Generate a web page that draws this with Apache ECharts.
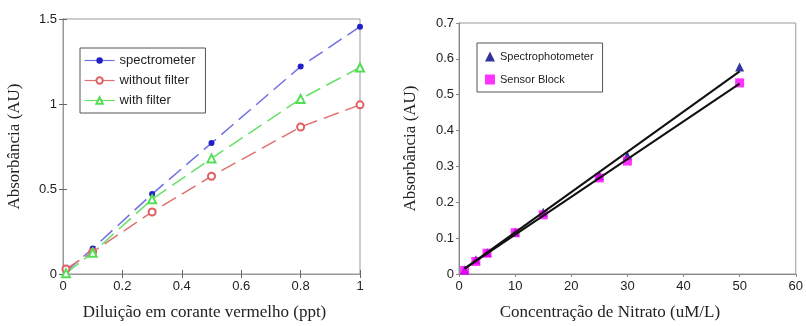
<!DOCTYPE html>
<html>
<head>
<meta charset="utf-8">
<script src="https://cdn.jsdelivr.net/npm/echarts@6/dist/echarts.min.js"></script>
<style>
  html, body { margin: 0; padding: 0; background: #fff; }
  #chart { width: 806px; height: 326px; }
</style>
</head>
<body>
<div id="chart"></div>
<script>
// left panel: dilution in red dye
const dilution = [0.01, 0.1, 0.3, 0.5, 0.8, 1];
const spectrometer = [0.015, 0.15, 0.47, 0.77, 1.22, 1.455];
const withoutFilter = [0.03, 0.13, 0.365, 0.575, 0.865, 0.995];
const withFilter = [0.005, 0.125, 0.44, 0.68, 1.03, 1.215];
const leftXTicks = [0, 0.2, 0.4, 0.6, 0.8, 1];
const leftYTicks = [0, 0.5, 1, 1.5];

// right panel: nitrate concentration
const nitrate = [1, 3, 5, 10, 15, 25, 30, 50];
const spectrophotometer = [0.012, 0.04, 0.06, 0.117, 0.172, 0.275, 0.33, 0.577];
const sensorBlock = [0.01, 0.035, 0.058, 0.115, 0.165, 0.268, 0.315, 0.533];
// fitted lines, read at both ends
const fitX = [1, 50];
const fitSpectro = [0.015, 0.565];
const fitSensor = [0.015, 0.531];

const pairs = (xs, ys) => xs.map((x, i) => [x, ys[i]]);

const chart = echarts.init(document.getElementById('chart'));

const tickFont = { fontFamily: 'Liberation Sans', fontSize: 13, color: '#222' };
const titleFont = { fontFamily: 'Liberation Serif', fontSize: 17, color: '#222' };
const dash = [16, 7];

const option = {
    animation: false,
    backgroundColor: '#fff',
    grid: [
        { left: 63, top: 19, width: 297, height: 257, show: true, borderColor: '#999', borderWidth: 1 },
        { left: 459, top: 23, width: 339, height: 253, show: true, borderColor: '#999', borderWidth: 1 }
    ],
    legend: [
        {
            orient: 'vertical', left: 80, top: 48, width: 128,
            padding: [6, 10, 6, 4], itemGap: 7, itemWidth: 30, itemHeight: 8,
            borderColor: '#555', borderWidth: 1, backgroundColor: '#fff',
            lineStyle: { type: 'solid', width: 1.2 },
            textStyle: { fontFamily: 'Liberation Sans', fontSize: 13, color: '#222' },
            data: ['spectrometer', 'without filter', 'with filter']
        },
        {
            orient: 'vertical', left: 477, top: 43,
            padding: [8, 9, 7, 8], itemGap: 12, itemWidth: 10, itemHeight: 10,
            borderColor: '#555', borderWidth: 1, backgroundColor: '#fff',
            textStyle: { fontFamily: 'Liberation Sans', fontSize: 11, color: '#222' },
            data: [
                { name: 'Spectrophotometer', icon: 'triangle' },
                { name: 'Sensor Block', icon: 'rect' }
            ]
        }
    ],
    xAxis: [
        {
            gridIndex: 0, type: 'value', min: 0, max: 1, interval: 0.2,
            name: 'Diluição em corante vermelho (ppt)', nameLocation: 'middle', nameGap: 30,
            nameTextStyle: Object.assign({ padding: [0, 14, 0, 0] }, titleFont),
            axisLine: { lineStyle: { color: '#999' } },
            axisTick: { inside: true, length: 4, lineStyle: { color: '#666' } },
            axisLabel: Object.assign({ margin: 6, formatter: v => leftXTicks.includes(v) ? String(v) : '' }, tickFont),
            splitLine: { show: false }
        },
        {
            gridIndex: 0, type: 'value', min: 0, max: 1, interval: 0.2, position: 'top',
            axisLine: { lineStyle: { color: '#999' } },
            axisTick: { inside: true, length: 4, lineStyle: { color: '#666' } },
            axisLabel: { show: false }, splitLine: { show: false }
        },
        {
            gridIndex: 1, type: 'value', min: 0, max: 60, interval: 10,
            name: 'Concentração de Nitrato (uM/L)', nameLocation: 'middle', nameGap: 30,
            nameTextStyle: Object.assign({ padding: [0, 35, 0, 0] }, titleFont),
            axisLine: { lineStyle: { color: '#888' } },
            axisTick: { length: 3, lineStyle: { color: '#888' } },
            axisLabel: Object.assign({ margin: 6 }, tickFont),
            splitLine: { show: false }
        }
    ],
    yAxis: [
        {
            gridIndex: 0, type: 'value', min: 0, max: 1.5, interval: 0.5,
            name: 'Absorbância (AU)', nameLocation: 'middle', nameGap: 40,
            nameTextStyle: titleFont,
            axisLine: { lineStyle: { color: '#999' } },
            axisTick: { inside: true, length: 4, lineStyle: { color: '#666' } },
            axisLabel: Object.assign({ margin: 6, formatter: v => leftYTicks.includes(v) ? String(v) : '' }, tickFont),
            splitLine: { show: false }
        },
        {
            gridIndex: 0, type: 'value', min: 0, max: 1.5, interval: 0.5, position: 'right',
            axisLine: { lineStyle: { color: '#999' } },
            axisTick: { inside: true, length: 4, lineStyle: { color: '#666' } },
            axisLabel: { show: false }, splitLine: { show: false }
        },
        {
            gridIndex: 1, type: 'value', min: 0, max: 0.7, interval: 0.1,
            name: 'Absorbância (AU)', nameLocation: 'middle', nameGap: 40,
            nameTextStyle: titleFont,
            axisLine: { lineStyle: { color: '#888' } },
            axisTick: { length: 3, lineStyle: { color: '#888' } },
            axisLabel: Object.assign({ margin: 5, formatter: v => v === 0 ? '0' : v.toFixed(1) }, tickFont),
            splitLine: { show: false }
        }
    ],
    series: [
        {
            name: 'spectrometer', type: 'line', xAxisIndex: 0, yAxisIndex: 0,
            data: pairs(dilution, spectrometer),
            symbol: 'circle', symbolSize: 6,
            itemStyle: { color: '#2020c8' },
            lineStyle: { color: '#7070e4', width: 1.5, type: dash }
        },
        {
            name: 'without filter', type: 'line', xAxisIndex: 0, yAxisIndex: 0,
            data: pairs(dilution, withoutFilter),
            symbol: 'emptyCircle', symbolSize: 7,
            itemStyle: { color: '#e06060', borderWidth: 1.2 },
            lineStyle: { color: '#e07070', width: 1.5, type: dash }
        },
        {
            name: 'with filter', type: 'line', xAxisIndex: 0, yAxisIndex: 0,
            data: pairs(dilution, withFilter),
            symbol: 'emptyTriangle', symbolSize: 8,
            itemStyle: { color: '#55dd55', borderWidth: 1.2 },
            lineStyle: { color: '#66e066', width: 1.5, type: dash }
        },
        {
            name: 'Spectrophotometer', type: 'scatter', xAxisIndex: 2, yAxisIndex: 2,
            data: pairs(nitrate, spectrophotometer),
            symbol: 'triangle', symbolSize: 9,
            itemStyle: { color: '#000080' }
        },
        {
            name: 'Sensor Block', type: 'scatter', xAxisIndex: 2, yAxisIndex: 2,
            data: pairs(nitrate, sensorBlock),
            symbol: 'rect', symbolSize: 9,
            itemStyle: { color: '#ff00ff' }
        },
        {
            name: 'fit spectro', type: 'line', xAxisIndex: 2, yAxisIndex: 2,
            data: pairs(fitX, fitSpectro), symbol: 'none', z: 5,
            lineStyle: { color: '#111', width: 2 }
        },
        {
            name: 'fit sensor', type: 'line', xAxisIndex: 2, yAxisIndex: 2,
            data: pairs(fitX, fitSensor), symbol: 'none', z: 5,
            lineStyle: { color: '#111', width: 2 }
        }
    ]
};

chart.setOption(option);
</script>
</body>
</html>
